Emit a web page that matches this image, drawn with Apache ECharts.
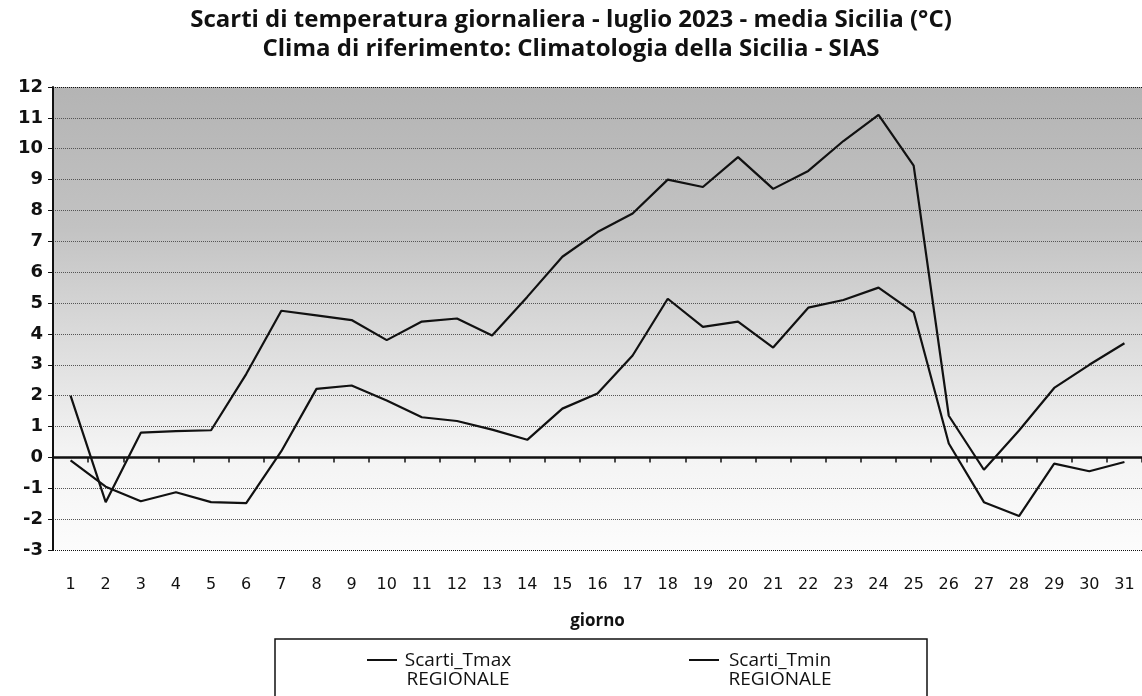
<!DOCTYPE html>
<html>
<head>
<meta charset="utf-8">
<script src="https://cdn.jsdelivr.net/npm/echarts@6/dist/echarts.min.js"></script>
<style>
  html, body { margin: 0; padding: 0; background: #fff; }
  #main { width: 1142px; height: 696px; }
</style>
</head>
<body>
<div id="main"></div>
<script>
// giorni di luglio
var giorni = [];
for (var d = 1; d <= 31; d++) giorni.push(String(d));

// scarti (°C)
var scartiTmax = [2.0, -1.45, 0.8, 0.85, 0.88, 2.7, 4.75, 4.6, 4.45, 3.8, 4.4, 4.5, 3.95, 5.2, 6.5, 7.3,
  7.9, 9.0, 8.76, 9.73, 8.7, 9.28, 10.25, 11.1, 9.45, 1.35, -0.4, 0.87, 2.25, 3.0, 3.7];
var scartiTmin = [-0.1, -0.95, -1.42, -1.13, -1.45, -1.48, 0.2, 2.22, 2.33, 1.84, 1.3, 1.18, 0.9, 0.57, 1.58, 2.07,
  3.3, 5.14, 4.23, 4.4, 3.56, 4.85, 5.1, 5.5, 4.7, 0.45, -1.45, -1.9, -0.2, -0.45, -0.15];

var nomiSerie = ['Scarti_Tmax', 'Scarti_Tmin'];

var myChart = echarts.init(document.getElementById('main'));

// colori griglia: nero per i bordi -3 e 12, grigio per le altre
var coloriGriglia = [];
for (var i = 0; i <= 15; i++) coloriGriglia.push(i === 0 || i === 15 ? '#111' : '#555');

var option = {
  backgroundColor: '#fff',
  animation: false,
  title: {
    text: 'Scarti di temperatura giornaliera - luglio 2023 - media Sicilia (°C)\nClima di riferimento: Climatologia della Sicilia - SIAS',
    left: 'center',
    top: 1,
    textStyle: {
      fontFamily: 'Open Sans',
      fontWeight: 'bold',
      fontSize: 24,
      lineHeight: 29,
      color: '#111'
    }
  },
  legend: {
    data: nomiSerie,
    left: 275,
    top: 639,
    padding: [12, 91, 20, 92],
    itemGap: 175,
    itemWidth: 30,
    itemHeight: 30,
    borderColor: '#111',
    borderWidth: 1.5,
    icon: 'path://M0,8L30,8L30,10L0,10Z M0,29.9L0.01,29.9L0.01,30L0,30Z',
    itemStyle: { color: '#111' },
    formatter: function (name) {
      return '{a|' + name + '}\n{a|REGIONALE}';
    },
    textStyle: {
      fontFamily: 'Open Sans',
      fontSize: 18,
      color: '#111',
      rich: {
        a: { width: 112, align: 'center', fontFamily: 'Open Sans', fontSize: 19, lineHeight: 19, color: '#111' }
      }
    }
  },
  grid: {
    left: 53,
    top: 87,
    width: 1095,
    height: 463,
    show: true,
    borderWidth: 0,
    backgroundColor: {
      type: 'linear', x: 0, y: 0, x2: 0, y2: 1,
      colorStops: [
        { offset: 0, color: '#b4b4b4' },
        { offset: 0.3, color: '#c2c2c2' },
        { offset: 0.55, color: '#dcdcdc' },
        { offset: 0.78, color: '#f3f3f3' },
        { offset: 1, color: '#fcfcfc' }
      ]
    }
  },
  xAxis: [
    {
      type: 'category',
      data: giorni,
      position: 'bottom',
      axisLine: { onZero: true, lineStyle: { color: '#111', width: 2.5 } },
      axisTick: { show: true, length: 5, lineStyle: { color: '#111', width: 1.5 } },
      axisLabel: { show: false },
      splitLine: { show: false }
    },
    {
      type: 'category',
      data: giorni,
      position: 'bottom',
      axisLine: { show: false, onZero: false },
      axisTick: { show: false },
      axisLabel: {
        margin: 27,
        fontFamily: 'DejaVu Sans',
        fontSize: 16,
        color: '#111'
      },
      name: 'giorno',
      nameLocation: 'middle',
      nameGap: 63,
      nameTextStyle: {
        fontFamily: 'Open Sans',
        fontWeight: 'bold',
        fontSize: 17,
        color: '#111'
      }
    }
  ],
  yAxis: {
    type: 'value',
    min: -3,
    max: 12,
    interval: 1,
    axisLine: { show: true, lineStyle: { color: '#111', width: 2 } },
    axisTick: { show: true, length: 5, lineStyle: { color: '#111' } },
    axisLabel: {
      margin: 10,
      fontFamily: 'DejaVu Sans',
      fontWeight: 'bold',
      fontSize: 18,
      color: '#111'
    },
    splitLine: {
      show: true,
      lineStyle: { type: 'dotted', color: coloriGriglia, width: 1 }
    }
  },
  series: [
    {
      name: nomiSerie[0],
      type: 'line',
      xAxisIndex: 0,
      data: scartiTmax,
      symbol: 'none',
      lineStyle: { color: '#111', width: 2.2 },
      itemStyle: { color: '#111' }
    },
    {
      name: nomiSerie[1],
      type: 'line',
      xAxisIndex: 0,
      data: scartiTmin,
      symbol: 'none',
      lineStyle: { color: '#111', width: 2.2 },
      itemStyle: { color: '#111' }
    }
  ]
};

myChart.setOption(option);
</script>
</body>
</html>
